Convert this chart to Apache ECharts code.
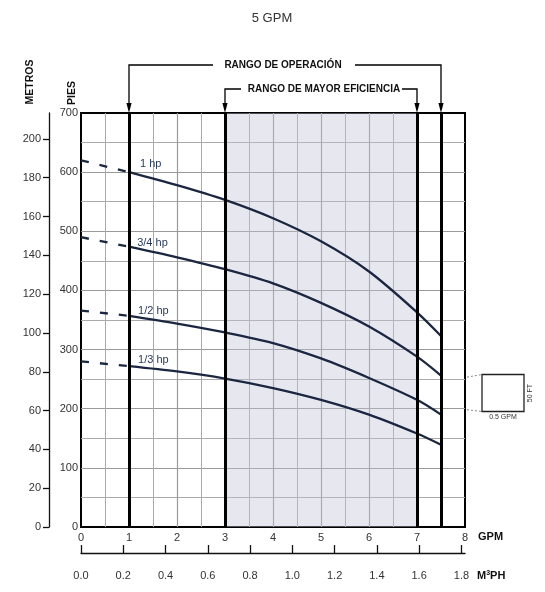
<!DOCTYPE html>
<html>
<head>
<meta charset="utf-8">
<script src="https://cdn.jsdelivr.net/npm/echarts@6/dist/echarts.min.js"></script>
<style>
  html, body { margin: 0; padding: 0; background: #fff; }
  #chart { width: 545px; height: 592px; }
</style>
</head>
<body>
<div id="chart"></div>
<script>
// caudal en GPM (tramo continuo) y tramo punteado
const flowGpm = [1, 2, 3, 4, 5, 6, 7, 7.5];
const dashGpm = [0, 1];

// carga en pies
const head1hp  = [600, 578, 553, 522, 483, 432, 363, 323];
const head34hp = [474, 456, 436, 412, 379, 339, 288, 256];
const head12hp = [357, 344, 329, 311, 285, 252, 215, 190];
const head13hp = [272, 263, 251, 235, 215, 190, 158, 139];

const dash1hp  = [620, 600];
const dash34hp = [490, 474];
const dash12hp = [366, 357];
const dash13hp = [280, 272];

const curveNames = ['1 hp', '3/4 hp', '1/2 hp', '1/3 hp'];
const labelGpm = [1.23, 1.17, 1.19, 1.19];
const labelFt = [614, 481, 366, 283];

const metrosTicks = [0, 20, 40, 60, 80, 100, 120, 140, 160, 180, 200];
const m3phTicks = [0, 0.2, 0.4, 0.6, 0.8, 1.0, 1.2, 1.4, 1.6, 1.8];
const rangeLines = [1, 3, 7, 7.5];

const curveColor = '#1b2740';
const font = 'Liberation Sans, Arial, sans-serif';

const solid = [head1hp, head34hp, head12hp, head13hp];
const dashed = [dash1hp, dash34hp, dash12hp, dash13hp];

const chart = echarts.init(document.getElementById('chart'));

const series = [];
solid.forEach((h, i) => {
  series.push({
    type: 'line',
    name: curveNames[i],
    data: flowGpm.map((x, j) => [x, h[j]]),
    smooth: 0.3,
    showSymbol: false,
    lineStyle: { color: curveColor, width: 2.3 },
    z: 4
  });
  series.push({
    type: 'line',
    data: dashGpm.map((x, j) => [x, dashed[i][j]]),
    showSymbol: false,
    lineStyle: { color: curveColor, width: 2.3, type: [8, 11] },
    z: 4
  });
});

// zona de mayor eficiencia y líneas de rango
series.push({
  type: 'line',
  data: [],
  markArea: {
    silent: true,
    itemStyle: { color: 'rgba(196,196,216,0.4)' },
    data: [[{ xAxis: 3 }, { xAxis: 7 }]]
  },
  markLine: {
    silent: true,
    symbol: ['none', 'none'],
    label: { show: false },
    lineStyle: { color: '#000', width: 3, type: 'solid' },
    data: rangeLines.map(x => ({ xAxis: x }))
  },
  z: 5
});

const hidden = { show: false };

chart.setOption({
  animation: false,
  grid: [
    { left: 81, right: 80, top: 113, bottom: 65, show: true, borderColor: '#000', borderWidth: 2 },
    { left: 49, right: 80, top: 113, bottom: 65 },   // eje METROS
    { left: 81, right: 80, top: 113, bottom: 39 }    // eje M3PH
  ],
  xAxis: [{
    gridIndex: 0, type: 'value', min: 0, max: 8, interval: 1,
    axisLine: { show: false },
    axisTick: { show: false },
    axisLabel: { color: '#333', fontSize: 11, margin: 5, fontFamily: font },
    splitLine: { show: true, showMinLine: false, showMaxLine: false, lineStyle: { color: '#999', width: 1.2 } },
    minorTick: { show: false, splitNumber: 2 },
    minorSplitLine: { show: true, lineStyle: { color: '#aaa', width: 1 } }
  }, {
    gridIndex: 1, type: 'value', min: 0, max: 1, show: false
  }, {
    gridIndex: 2, type: 'value', position: 'bottom', min: 0, max: 8 / 4.402868,
    axisLine: { show: true, lineStyle: { color: '#111', width: 1.3 } },
    axisTick: { show: true, inside: true, length: 8, customValues: m3phTicks, lineStyle: { color: '#111', width: 1.3 } },
    axisLabel: { customValues: m3phTicks, formatter: v => v.toFixed(1), color: '#333', fontSize: 11, margin: 17, fontFamily: font },
    splitLine: hidden
  }],
  yAxis: [{
    gridIndex: 0, type: 'value', min: 0, max: 700, interval: 100,
    axisLine: { show: false },
    axisTick: { show: false },
    axisLabel: { color: '#333', fontSize: 11, margin: 3, fontFamily: font },
    splitLine: { show: true, showMinLine: false, showMaxLine: false, lineStyle: { color: '#999', width: 1.2 } },
    minorTick: { show: false, splitNumber: 2 },
    minorSplitLine: { show: true, lineStyle: { color: '#aaa', width: 1 } }
  }, {
    gridIndex: 1, type: 'value', position: 'left', min: 0, max: 700 * 0.3048,
    axisLine: { show: true, lineStyle: { color: '#111', width: 1.3 } },
    axisTick: { show: true, inside: false, length: 6, customValues: metrosTicks, lineStyle: { color: '#111', width: 1.3 } },
    axisLabel: { customValues: metrosTicks, color: '#333', fontSize: 11, margin: 8, fontFamily: font },
    splitLine: hidden
  }, {
    gridIndex: 2, type: 'value', min: 0, max: 1, show: false
  }],
  series: series
});

// textos y corchetes de rango
const px = (x, y) => chart.convertToPixel({ xAxisIndex: 0, yAxisIndex: 0 }, [x, y]);
const topY = px(0, 700)[1];
const g = [];

g.push({ type: 'text', x: 272, y: 18, style: { text: '5 GPM', fill: '#333', font: '13px ' + font, align: 'center', verticalAlign: 'middle' } });

curveNames.forEach((n, i) => {
  const p = px(labelGpm[i], labelFt[i]);
  g.push({ type: 'text', x: p[0], y: p[1], z: 10, style: { text: n, fill: '#2a3a5c', font: '11px ' + font, align: 'left', verticalAlign: 'middle' } });
});

function arrow(x) {
  return { type: 'polygon', z: 10, shape: { points: [[x - 2.6, topY - 10], [x + 2.6, topY - 10], [x, topY]] }, style: { fill: '#000' } };
}
const x1 = px(1, 0)[0], x3 = px(3, 0)[0], x7 = px(7, 0)[0], x75 = px(7.5, 0)[0];
const yOp = 65, yEf = 89;
const ls = { stroke: '#000', lineWidth: 1.3, fill: null };
g.push({ type: 'polyline', z: 10, shape: { points: [[x1, topY - 8], [x1, yOp], [213, yOp]] }, style: ls });
g.push({ type: 'polyline', z: 10, shape: { points: [[355, yOp], [x75, yOp], [x75, topY - 8]] }, style: ls });
g.push({ type: 'text', x: 283, y: yOp, style: { text: 'RANGO DE OPERACIÓN', fill: '#111', font: 'bold 10px ' + font, align: 'center', verticalAlign: 'middle' } });
g.push({ type: 'polyline', z: 10, shape: { points: [[x3, topY - 8], [x3, yEf], [241, yEf]] }, style: ls });
g.push({ type: 'polyline', z: 10, shape: { points: [[402, yEf], [x7, yEf], [x7, topY - 8]] }, style: ls });
g.push({ type: 'text', x: 324, y: yEf, style: { text: 'RANGO DE MAYOR EFICIENCIA', fill: '#111', font: 'bold 10px ' + font, align: 'center', verticalAlign: 'middle' } });
[x1, x3, x7, x75].forEach(x => g.push(arrow(x)));

// nombres de ejes
g.push({ type: 'text', x: 30, y: 82, rotation: Math.PI / 2, style: { text: 'METROS', fill: '#111', font: 'bold 10.5px ' + font, align: 'center', verticalAlign: 'middle' } });
g.push({ type: 'text', x: 72, y: 93, rotation: Math.PI / 2, style: { text: 'PIES', fill: '#111', font: 'bold 10.5px ' + font, align: 'center', verticalAlign: 'middle' } });
g.push({ type: 'text', x: 478, y: 537, style: { text: 'GPM', fill: '#111', font: 'bold 11px ' + font, align: 'left', verticalAlign: 'middle' } });
g.push({ type: 'text', x: 477, y: 576, style: { rich: { b: { font: 'bold 11px ' + font, fill: '#111' }, s: { font: 'bold 7px ' + font, fill: '#111', verticalAlign: 'top', padding: [0, 0, 5, 0] } }, text: '{b|M}{s|3}{b|PH}', align: 'left', verticalAlign: 'middle' } });

// cuadro de escala
const y250 = px(0, 250)[1], y200 = px(0, 200)[1];
g.push({ type: 'rect', shape: { x: 482, y: 374.5, width: 42, height: 37 }, style: { stroke: '#222', lineWidth: 1.3, fill: '#fff' } });
g.push({ type: 'line', shape: { x1: 467, y1: y250 - 2, x2: 482, y2: 374.5 }, style: { stroke: '#888', lineWidth: 1, lineDash: [2, 2] } });
g.push({ type: 'line', shape: { x1: 467, y1: y200 + 1, x2: 482, y2: 411.5 }, style: { stroke: '#888', lineWidth: 1, lineDash: [2, 2] } });
g.push({ type: 'text', x: 530, y: 393, rotation: Math.PI / 2, style: { text: '50 FT', fill: '#333', font: '7px ' + font, align: 'center', verticalAlign: 'middle' } });
g.push({ type: 'text', x: 503, y: 417.5, style: { text: '0.5 GPM', fill: '#333', font: '7px ' + font, align: 'center', verticalAlign: 'middle' } });

chart.setOption({ graphic: g });
</script>
</body>
</html>
